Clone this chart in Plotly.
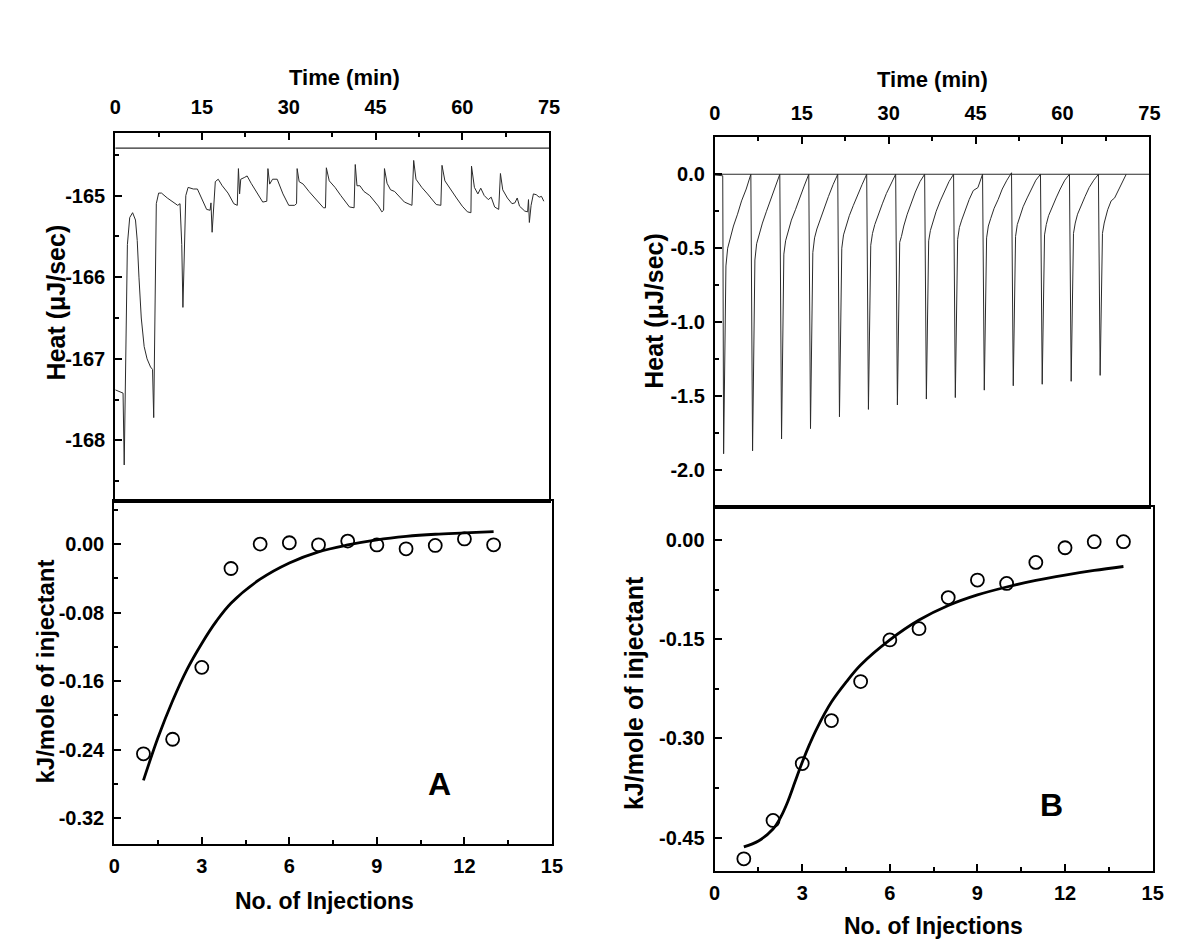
import plotly.graph_objects as go

W, H = 1200, 942
FONT = "Liberation Sans, Arial, sans-serif"

# ---------------- Panel A : raw thermogram ----------------
a_time = [0, 0.8, 1.35, 1.55, 1.85, 2.1, 2.5, 3.0, 3.5, 3.8, 4.1, 4.5, 5.0, 5.5, 6.1, 6.45,
          6.65, 6.9, 7.1, 7.5, 8.0, 9.0, 10.0, 10.8, 11.2, 11.5, 11.7, 11.95, 12.2, 12.6,
          13.5, 14.2, 15.0, 15.8, 16.4, 16.55, 16.75, 17.0, 17.3, 17.8, 18.5, 19.5, 20.5,
          21.1, 21.3, 21.5, 21.7, 22.3, 22.8, 23.5, 24.5, 25.5, 26.2, 26.4, 26.7, 27.2,
          28.0, 29.0, 30.0, 31.0, 31.35, 31.45, 31.8, 32.5, 33.5, 35.0, 36.0, 36.35, 36.5,
          37.0, 38.0, 39.0, 40.5, 41.3, 41.5, 41.8, 42.3, 43.0, 44.0, 45.5, 46.1, 46.4,
          46.55, 47.0, 47.6, 48.3, 49.0, 50.0, 51.3, 51.6, 52.0, 53.0, 54.0, 55.5, 56.3,
          56.5, 57.0, 58.0, 59.0, 60.0, 60.9, 61.5, 61.6, 62.1, 62.7, 63.2, 63.8, 64.5,
          65.0, 65.6, 66.3, 66.6, 67.0, 67.8, 68.6, 69.1, 69.5, 69.9, 70.8, 71.3, 71.45,
          71.6, 71.9, 72.3, 72.8, 73.3, 73.7, 74.1]
a_heat = [-167.38, -167.40, -167.42, -168.30, -166.40, -165.60, -165.27, -165.21, -165.30,
          -165.55, -166.00, -166.50, -166.85, -167.00, -167.10, -167.13,
          -167.72, -166.20, -165.10, -164.97, -164.97, -165.03, -165.08, -165.12, -165.10,
          -165.60, -166.37, -165.50, -165.00, -164.90,
          -164.92, -164.92, -165.05, -165.17, -165.18, -165.09, -165.45, -165.15, -164.83,
          -164.80, -164.88, -164.97, -165.10,
          -165.12, -164.67, -164.98, -164.80, -164.78, -164.76, -164.85, -164.97, -165.08,
          -165.07, -164.67, -164.86, -164.80,
          -164.80, -164.98, -165.12, -165.12, -165.10, -164.67, -164.83, -164.86, -164.95,
          -165.07, -165.15, -165.15, -164.66,
          -164.82, -164.90, -165.00, -165.14, -165.15, -164.62, -164.88, -164.88, -164.95,
          -165.00, -165.13, -165.20, -165.18,
          -164.67, -164.85, -164.93, -164.95, -165.00, -165.08, -165.12, -164.57, -164.80,
          -164.90, -164.98, -165.11, -165.12,
          -164.63, -164.82, -164.93, -165.03, -165.13, -165.20, -165.21, -164.64, -164.90,
          -164.98, -164.91, -165.00, -165.05,
          -165.02, -165.14, -165.17, -164.73, -164.93, -165.03, -165.10, -165.09, -165.03,
          -165.13, -165.19, -165.20, -165.05,
          -165.33, -165.12, -164.98, -164.99, -165.02, -165.01, -165.07]
a_base_time = [0, 75]
a_base_heat = [-164.42, -164.42]

# ---------------- Panel A : integrated heats ----------------
a_inj = [1, 2, 3, 4, 5, 6, 7, 8, 9, 10, 11, 12, 13]
a_kj = [-0.245, -0.228, -0.144, -0.0285, 0.000, 0.0016, -0.0008, 0.0035, -0.001,
        -0.0055, -0.0016, 0.006, -0.0008]
a_fit_x = [1, 1.5, 2, 2.5, 3, 3.5, 4, 5, 6, 7, 8, 9, 10, 11, 12, 13]
a_fit_y = [-0.276, -0.226, -0.183, -0.146, -0.116, -0.090, -0.069, -0.041, -0.022,
           -0.009, -0.001, 0.005, 0.009, 0.0115, 0.013, 0.0145]

# ---------------- Panel B : raw thermogram ----------------
b_time = [0, 1.0, 1.35,
          1.5, 1.9, 2.2, 2.6, 3.2, 3.9, 4.6, 5.4, 6.2,
          6.5, 6.9, 7.2, 7.6, 8.2, 8.9, 9.6, 10.4, 11.2,
          11.5, 11.9, 12.2, 12.6, 13.2, 13.9, 14.6, 15.4, 16.2,
          16.5, 16.9, 17.2, 17.6, 18.2, 18.9, 19.6, 20.4, 21.2,
          21.5, 21.9, 22.2, 22.6, 23.2, 23.9, 24.6, 25.4, 26.2,
          26.5, 26.9, 27.2, 27.6, 28.2, 28.9, 29.6, 30.4, 31.2,
          31.5, 31.9, 32.2, 32.6, 33.2, 33.9, 34.6, 35.4, 36.2,
          36.5, 36.9, 37.2, 37.6, 38.2, 38.9, 39.6, 40.4, 41.2,
          41.5, 41.9, 42.2, 42.6, 43.2, 43.9, 44.6, 45.4, 46.2,
          46.5, 46.9, 47.2, 47.6, 48.2, 48.9, 49.6, 50.4, 51.2,
          51.5, 51.9, 52.2, 52.6, 53.2, 53.9, 54.6, 55.4, 56.2,
          56.5, 56.9, 57.2, 57.6, 58.2, 58.9, 59.6, 60.4, 61.2,
          61.5, 61.9, 62.2, 62.6, 63.2, 63.9, 64.6, 65.4, 66.2,
          66.5, 66.9, 67.2, 67.8, 68.4, 69.0, 69.7, 70.4, 71.0]
b_heat = [-0.005, -0.01, -0.01,
          -1.89, -0.62, -0.50, -0.44, -0.35, -0.27, -0.18, -0.10, 0.0,
          -1.87, -0.58, -0.47, -0.41, -0.33, -0.25, -0.17, -0.08, 0.0,
          -1.79, -0.54, -0.45, -0.39, -0.31, -0.24, -0.16, -0.08, 0.0,
          -1.72, -0.53, -0.43, -0.37, -0.30, -0.22, -0.15, -0.07, 0.0,
          -1.64, -0.50, -0.41, -0.35, -0.28, -0.21, -0.14, -0.07, 0.0,
          -1.59, -0.48, -0.40, -0.34, -0.27, -0.20, -0.13, -0.06, 0.0,
          -1.56, -0.46, -0.42, -0.35, -0.27, -0.19, -0.12, -0.05, 0.0,
          -1.52, -0.45, -0.38, -0.32, -0.25, -0.18, -0.12, -0.05, 0.0,
          -1.51, -0.44, -0.36, -0.31, -0.24, -0.17, -0.11, -0.09, 0.0,
          -1.46, -0.43, -0.35, -0.30, -0.23, -0.17, -0.10, -0.04, 0.01,
          -1.43, -0.42, -0.34, -0.29, -0.22, -0.16, -0.10, -0.04, 0.0,
          -1.42, -0.41, -0.34, -0.28, -0.22, -0.16, -0.10, -0.04, 0.0,
          -1.40, -0.40, -0.33, -0.27, -0.21, -0.15, -0.09, -0.04, 0.0,
          -1.36, -0.40, -0.33, -0.24, -0.18, -0.16, -0.10, -0.04, 0.0]
b_base_time = [0, 75]
b_base_heat = [0.0, 0.0]

# ---------------- Panel B : integrated heats ----------------
b_inj = [1, 2, 3, 4, 5, 6, 7, 8, 9, 10, 11, 12, 13, 14]
b_kj = [-0.482, -0.424, -0.338, -0.273, -0.214, -0.151, -0.134, -0.087, -0.0605,
        -0.0656, -0.0338, -0.0116, -0.0025, -0.0025]
b_fit_x = [1, 1.5, 2, 2.25, 2.5, 2.75, 3, 3.25, 3.5, 4, 4.5, 5, 6, 7, 8, 9, 10, 11, 12, 13, 14]
b_fit_y = [-0.464, -0.455, -0.437, -0.420, -0.396, -0.366, -0.336, -0.309, -0.285, -0.245,
           -0.215, -0.189, -0.151, -0.121, -0.099, -0.083, -0.071, -0.061, -0.053, -0.046,
           -0.040]

# tick labels
time_ticks = [0, 15, 30, 45, 60, 75]
time_minor = [7.5, 22.5, 37.5, 52.5, 67.5]
inj_ticks = [0, 3, 6, 9, 12, 15]
inj_minor = [1.5, 4.5, 7.5, 10.5, 13.5]
a_heat_ticks = [-165, -166, -167, -168]
a_heat_text = ["-165", "-166", "-167", "-168"]
a_heat_minor = [-164.5, -165.5, -166.5, -167.5, -168.5]
a_kj_ticks = [0.0, -0.08, -0.16, -0.24, -0.32]
a_kj_text = ["0.00", "-0.08", "-0.16", "-0.24", "-0.32"]
a_kj_minor = [0.04, -0.04, -0.12, -0.20, -0.28]
b_heat_ticks = [0.0, -0.5, -1.0, -1.5, -2.0]
b_heat_text = ["0.0", "-0.5", "-1.0", "-1.5", "-2.0"]
b_heat_minor = [-0.25, -0.75, -1.25, -1.75]
b_kj_ticks = [0.0, -0.15, -0.30, -0.45]
b_kj_text = ["0.00", "-0.15", "-0.30", "-0.45"]
b_kj_minor = [-0.075, -0.225, -0.375]


def px_x(p):
    return p / W


def px_y(p):
    return 1 - p / H


def axis(**kw):
    d = dict(showline=True, linecolor="black", linewidth=2, mirror=True,
             ticks="inside", ticklen=7, tickwidth=1.5, tickcolor="black",
             showgrid=False, zeroline=False, fixedrange=True,
             tickfont=dict(family=FONT, size=20, color="black", weight="bold"))
    d.update(kw)
    return d


def minor(vals):
    return dict(tickmode="array", tickvals=vals, ticks="inside", ticklen=4,
                tickwidth=1.5, tickcolor="black", showgrid=False)


raw_line = dict(color="#2b2b2b", width=1)
fit_line = dict(color="black", width=2.8, shape="spline")
marker = dict(symbol="circle-open", size=13, color="black", line=dict(width=1.8, color="black"))

fig = go.Figure()
fig.add_trace(go.Scatter(x=a_base_time, y=a_base_heat, mode="lines", line=dict(color="#2b2b2b", width=1.2),
                         xaxis="x", yaxis="y", showlegend=False, hoverinfo="skip"))
fig.add_trace(go.Scatter(x=a_time, y=a_heat, mode="lines", line=raw_line,
                         xaxis="x", yaxis="y", showlegend=False))
fig.add_trace(go.Scatter(x=a_fit_x, y=a_fit_y, mode="lines", line=fit_line,
                         xaxis="x2", yaxis="y2", showlegend=False))
fig.add_trace(go.Scatter(x=a_inj, y=a_kj, mode="markers", marker=marker,
                         xaxis="x2", yaxis="y2", showlegend=False, cliponaxis=False))
fig.add_trace(go.Scatter(x=b_base_time, y=b_base_heat, mode="lines", line=dict(color="#2b2b2b", width=1.2),
                         xaxis="x3", yaxis="y3", showlegend=False, hoverinfo="skip"))
fig.add_trace(go.Scatter(x=b_time, y=b_heat, mode="lines", line=raw_line,
                         xaxis="x3", yaxis="y3", showlegend=False))
fig.add_trace(go.Scatter(x=b_fit_x, y=b_fit_y, mode="lines", line=fit_line,
                         xaxis="x4", yaxis="y4", showlegend=False))
fig.add_trace(go.Scatter(x=b_inj, y=b_kj, mode="markers", marker=marker,
                         xaxis="x4", yaxis="y4", showlegend=False, cliponaxis=False))

# pixel frames of the four plot boxes
A_TOP = (102.7, 542.7, 125.0, 493.3)
A_BOT = (101.7, 545.7, 493.3, 835.7)
B_TOP = (711.0, 1151.7, 129.3, 499.0)
B_BOT = (710.7, 1155.0, 499.0, 862.7)


def dom(box):
    x0, x1, y0, y1 = box
    return [px_x(x0), px_x(x1)], [px_y(y1), px_y(y0)]


dxa, dya = dom(A_TOP)
dxa2, dya2 = dom(A_BOT)
dxb, dyb = dom(B_TOP)
dxb2, dyb2 = dom(B_BOT)

fig.update_layout(
    width=W, height=H, autosize=False,
    margin=dict(l=0, r=0, t=0, b=0),
    paper_bgcolor="white", plot_bgcolor="white",
    showlegend=False,
    xaxis=axis(domain=dxa, anchor="y", side="top", range=[0, 75],
               tickmode="array", tickvals=time_ticks, minor=minor(time_minor),
               ticklabelstandoff=9),
    yaxis=axis(domain=dya, anchor="x", range=[-168.745, -164.234],
               tickmode="array", tickvals=a_heat_ticks, ticktext=a_heat_text,
               minor=minor(a_heat_minor), ticklabelstandoff=4),
    xaxis2=axis(domain=dxa2, anchor="y2", side="bottom", range=[0, 15],
                tickmode="array", tickvals=inj_ticks, minor=minor(inj_minor),
                ticklabelstandoff=3),
    yaxis2=axis(domain=dya2, anchor="x2", range=[-0.35, 0.05],
                tickmode="array", tickvals=a_kj_ticks, ticktext=a_kj_text,
                minor=minor(a_kj_minor), ticklabelstandoff=4),
    xaxis3=axis(domain=dxb, anchor="y3", side="top", range=[0, 75],
                tickmode="array", tickvals=time_ticks, minor=minor(time_minor),
                ticklabelstandoff=7),
    yaxis3=axis(domain=dyb, anchor="x3", range=[-2.25, 0.25],
                tickmode="array", tickvals=b_heat_ticks, ticktext=b_heat_text,
                minor=minor(b_heat_minor), ticklabelstandoff=4),
    xaxis4=axis(domain=dxb2, anchor="y4", side="bottom", range=[0, 15],
                tickmode="array", tickvals=inj_ticks, minor=minor(inj_minor),
                ticklabelstandoff=3),
    yaxis4=axis(domain=dyb2, anchor="x4", range=[-0.50, 0.05],
                tickmode="array", tickvals=b_kj_ticks, ticktext=b_kj_text,
                minor=minor(b_kj_minor), ticklabelstandoff=4),
)


def label(text, x, y, size, angle=0):
    return dict(text=text, x=px_x(x), y=px_y(y), xref="paper", yref="paper",
                showarrow=False, textangle=angle, xanchor="center", yanchor="middle",
                font=dict(family=FONT, size=size, color="black", weight="bold"))


annotations = [
    label("Time (min)", 335, 70, 22),
    label("Time (min)", 932, 72, 22),
    label("No. of Injections", 315, 893, 23),
    label("No. of Injections", 933, 918, 23),
    label("Heat (μJ/sec)", 43, 294, 25, -90),
    label("Heat (μJ/sec)", 649, 303, 25, -90),
    label("kJ/mole of injectant", 31, 664, 24, -90),
    label("kJ/mole of injectant", 629, 685, 25, -90),
    dict(text="A", x=11.15, y=-0.28, xref="x2", yref="y2", showarrow=False,
         font=dict(family=FONT, size=32, color="black", weight="bold")),
    dict(text="B", x=11.55, y=-0.40, xref="x4", yref="y4", showarrow=False,
         font=dict(family=FONT, size=32, color="black", weight="bold")),
]
fig.update_layout(annotations=annotations)

fig.write_html("out.html")
